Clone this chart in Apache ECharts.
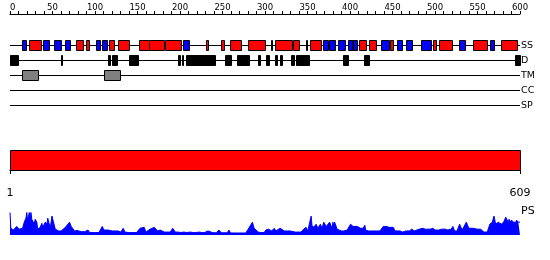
<!DOCTYPE html>
<html><head><meta charset="utf-8">
<script src="https://cdn.jsdelivr.net/npm/echarts@6/dist/echarts.min.js"></script>
<style>html,body{margin:0;padding:0;background:#fff}#c{width:550px;height:260px}</style>
</head><body><div id="c"></div>
<script>
// ---- data ----
const tracks = ['SS', 'D', 'TM', 'CC', 'SP'];
const seqLength = 609;
const rulerMax = 600;
const rulerStep = 10;
const rulerLabelStep = 50;
const endLabels = [1, 609];
const helices = [[24,37],[80,88],[92,95],[120,125],[130,142],[155,166],[167,184],[186,204],[235,237],[253,256],[264,276],[285,305],[313,313],[318,337],[339,345],[354,354],[359,371],[417,425],[430,437],[455,457],[506,508],[513,528],[554,569],[587,605]];
const strands = [[16,20],[41,47],[54,61],[67,72],[104,108],[111,116],[208,214],[375,380],[382,388],[393,400],[404,408],[409,409],[410,414],[444,452],[463,468],[473,480],[492,502],[537,543],[574,578]];
const disorder = [[1,10],[62,63],[118,120],[123,124],[126,128],[143,153],[202,203],[206,207],[211,245],[258,264],[272,273],[275,285],[297,299],[307,309],[317,319],[323,325],[336,339],[343,357],[399,403],[424,429],[604,609]];
const transmembrane = [[16,34],[113,132]];
const coiledCoil = [];
const signalPeptide = [];
const domains = [[1,609]];
const psRes = [1,2,5,7,9,12,14,16,18,20,21,22,24,25,26,27,28,30,31,33,34,37,39,40,43,45,46,49,51,53,55,57,59,62,64,67,69,70,72,74,76,78,81,83,86,88,90,94,96,100,103,107,111,113,115,118,120,123,125,127,130,133,136,138,142,145,149,152,156,158,161,163,165,168,170,173,175,177,180,182,185,188,192,195,198,201,205,208,212,216,219,223,226,230,233,237,239,243,247,250,253,256,260,262,264,268,272,275,279,282,285,287,290,292,294,297,300,304,306,309,311,313,316,318,320,323,325,328,330,332,335,337,341,344,348,351,354,356,360,361,363,366,368,371,373,375,378,380,382,385,386,387,388,391,393,396,399,403,405,407,410,412,415,417,419,422,424,425,428,431,435,438,442,446,448,450,453,455,458,460,462,466,469,473,477,480,483,485,489,491,493,496,498,502,505,508,510,512,516,520,523,527,529,531,534,537,540,542,545,546,548,550,553,555,558,560,562,566,570,573,576,578,580,583,585,587,590,592,595,596,598,599,601,603,604,605,607,609];
const psVal = [1.00,0.30,0.22,0.26,0.38,0.26,0.22,0.30,0.57,0.75,1.00,0.66,1.00,0.75,1.00,0.70,0.75,0.48,0.70,0.57,0.26,0.34,0.52,0.34,0.57,0.48,0.75,0.30,0.84,0.79,0.26,0.26,0.18,0.18,0.13,0.34,0.30,0.48,0.57,0.38,0.30,0.18,0.20,0.18,0.15,0.18,0.15,0.22,0.11,0.11,0.11,0.11,0.38,0.22,0.30,0.22,0.30,0.18,0.13,0.18,0.18,0.13,0.30,0.13,0.11,0.11,0.11,0.11,0.30,0.38,0.34,0.13,0.13,0.26,0.18,0.34,0.30,0.18,0.22,0.18,0.13,0.13,0.13,0.30,0.13,0.13,0.11,0.13,0.11,0.13,0.11,0.11,0.13,0.11,0.11,0.18,0.10,0.10,0.10,0.22,0.10,0.10,0.10,0.22,0.09,0.09,0.09,0.09,0.09,0.09,0.26,0.22,0.57,0.30,0.22,0.13,0.11,0.11,0.22,0.26,0.18,0.18,0.30,0.18,0.18,0.30,0.22,0.18,0.22,0.18,0.18,0.13,0.13,0.13,0.13,0.26,0.34,0.18,0.84,0.43,0.34,0.48,0.30,0.48,0.30,0.57,0.38,0.38,0.57,0.30,0.57,0.38,0.57,0.26,0.26,0.18,0.18,0.22,0.30,0.48,0.38,0.30,0.38,0.30,0.30,0.30,0.43,0.22,0.18,0.18,0.18,0.18,0.18,0.38,0.30,0.38,0.34,0.30,0.34,0.18,0.18,0.18,0.13,0.18,0.18,0.26,0.18,0.18,0.26,0.22,0.30,0.26,0.30,0.26,0.30,0.22,0.26,0.22,0.26,0.26,0.22,0.26,0.38,0.18,0.18,0.48,0.22,0.22,0.57,0.48,0.30,0.26,0.30,0.22,0.26,0.22,0.26,0.13,0.13,0.48,0.57,0.84,0.48,0.57,0.57,0.48,0.61,0.79,0.57,0.70,0.57,0.66,0.57,0.61,0.57,0.66,0.57,0.57];

// ---- chart ----
const chart = echarts.init(document.getElementById('c'), null, {renderer: 'canvas'});
const FONT = 'DejaVu Sans';

function toItems(list, track) {
  const ti = tracks.indexOf(track);
  return list.map(d => [d[0], d[1], ti]);
}
function boxRender(fill) {
  return function (params, api) {
    const t = api.value(2);
    const p0 = api.coord([api.value(0) - 0.5, t]);
    const p1 = api.coord([api.value(1) + 0.5, t]);
    const x0 = Math.round(p0[0]) + 0.5;
    let x1 = Math.round(p1[0]) + 0.5;
    if (x1 <= x0) x1 = x0 + 1;
    const cy = p0[1];
    return {
      type: 'rect',
      shape: {x: x0, y: cy - 5, width: x1 - x0, height: 10},
      style: {fill: fill, stroke: '#000', lineWidth: 1}
    };
  };
}
function boxSeries(list, track, fill) {
  return {
    type: 'custom', xAxisIndex: 1, yAxisIndex: 0, clip: false,
    renderItem: boxRender(fill), data: toItems(list, track), z: 3,
    encode: {x: [0, 1], y: 2}, silent: true
  };
}

const option = {
  animation: false,
  backgroundColor: '#fff',
  grid: [
    {left: 10, width: 510, top: 38, height: 75},
    {left: 10, width: 510, top: 150, height: 20},
    {left: 10, width: 510, top: 212.5, height: 22.5}
  ],
  xAxis: [
    {gridIndex: 0, type: 'value', position: 'top', offset: 24, min: 0, max: rulerMax, interval: rulerStep,
     axisLine: {show: true, lineStyle: {color: '#000', width: 1}},
     axisTick: {show: true, length: 3, lineStyle: {color: '#000'}},
     splitLine: {show: false},
     axisLabel: {fontFamily: FONT, fontSize: 8.5, color: '#000', margin: 2, alignMinLabel: 'left',
       formatter: v => (v % rulerLabelStep === 0 ? String(v) : '')}},
    {gridIndex: 0, type: 'value', min: 1, max: seqLength, show: false},
    {gridIndex: 1, type: 'value', position: 'bottom', offset: 11, min: 1, max: seqLength,
     axisLine: {show: true, lineStyle: {color: '#000', width: 1}},
     axisTick: {show: true, length: 4, customValues: endLabels, lineStyle: {color: '#000'}},
     splitLine: {show: false},
     axisLabel: {customValues: endLabels, fontFamily: FONT, fontSize: 11, color: '#000', margin: 7}},
    {gridIndex: 2, type: 'value', min: 1, max: seqLength, show: false}
  ],
  yAxis: [
    {gridIndex: 0, type: 'category', data: tracks, inverse: true, position: 'right',
     axisLine: {show: false}, axisTick: {show: false}, splitLine: {show: false},
     axisLabel: {fontFamily: FONT, fontSize: 9.5, color: '#000', margin: 1}},
    {gridIndex: 1, type: 'value', min: 0, max: 1, show: false},
    {gridIndex: 2, type: 'value', min: 0, max: 1, show: false}
  ],
  graphic: [
    {type: 'text', left: 521, top: 206, style: {text: 'PS', fontFamily: FONT, fontSize: 11, fill: '#000'}}
  ],
  series: [
    {type: 'custom', xAxisIndex: 1, yAxisIndex: 0, clip: false, silent: true, z: 2,
     data: tracks.map((t, i) => [1, seqLength, i]), encode: {x: [0, 1], y: 2},
     renderItem: function (params, api) {
       const p0 = api.coord([api.value(0), api.value(2)]);
       const p1 = api.coord([api.value(1), api.value(2)]);
       return {type: 'line', shape: {x1: Math.round(p0[0]), y1: p0[1], x2: Math.round(p1[0]), y2: p1[1]},
               style: {stroke: '#000', lineWidth: 1}};
     }},
    boxSeries(helices, 'SS', '#ff0000'),
    boxSeries(strands, 'SS', '#0000ff'),
    boxSeries(disorder, 'D', '#000000'),
    boxSeries(transmembrane, 'TM', '#808080'),
    boxSeries(coiledCoil, 'CC', '#00aa00'),
    boxSeries(signalPeptide, 'SP', '#ffaa00'),
    {type: 'custom', xAxisIndex: 2, yAxisIndex: 1, clip: false, silent: true,
     data: domains, encode: {x: [0, 1]},
     renderItem: function (params, api) {
       const p0 = api.coord([api.value(0), 1]);
       const p1 = api.coord([api.value(1), 0]);
       const x0 = Math.round(p0[0]) + 0.5, x1 = Math.round(p1[0]) + 0.5;
       const y0 = Math.round(p0[1]) + 0.5, y1 = Math.round(p1[1]) + 0.5;
       return {type: 'rect', shape: {x: x0, y: y0, width: x1 - x0, height: y1 - y0},
               style: {fill: '#ff0000', stroke: '#000', lineWidth: 1}};
     }},
    {type: 'line', xAxisIndex: 3, yAxisIndex: 2, showSymbol: false, silent: true,
     data: psRes.map((r, i) => [r, psVal[i]]),
     lineStyle: {color: '#0000ff', width: 1},
     areaStyle: {color: '#0000ff', opacity: 1}}
  ]
};
chart.setOption(option);
</script>
</body></html>
